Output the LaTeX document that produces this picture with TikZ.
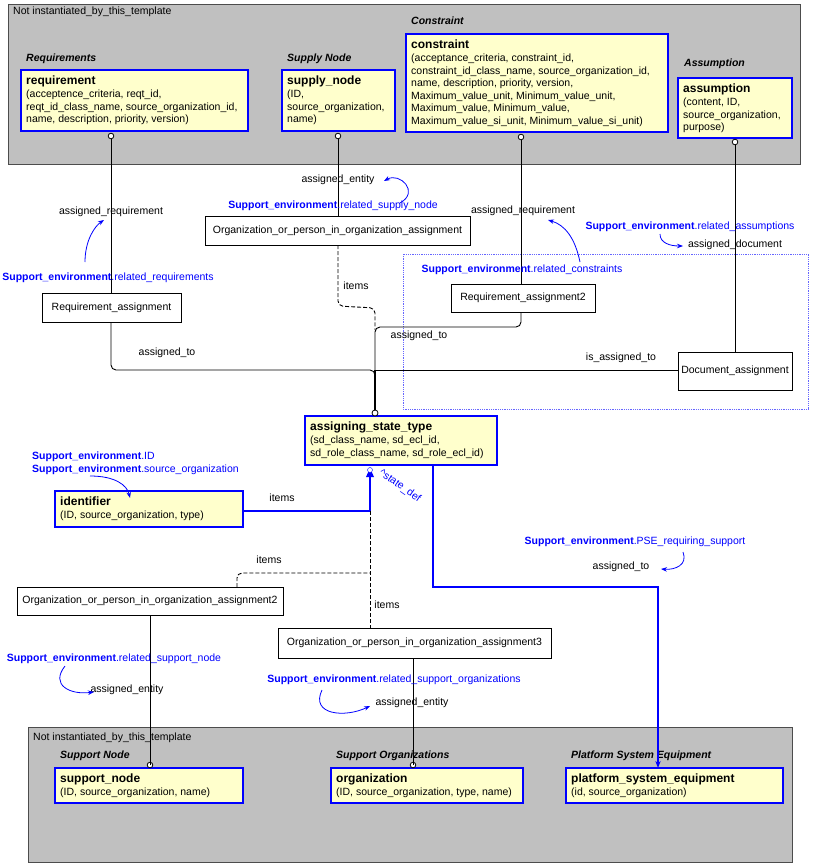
\documentclass[tikz,border=0pt]{standalone}
\usepackage{fontspec}
\setmainfont{Liberation Sans}
\usetikzlibrary{arrows.meta}
\definecolor{pan}{RGB}{192,192,192}
\definecolor{ent}{RGB}{255,255,204}
\definecolor{bl}{RGB}{0,0,255}
\newcommand{\se}[1]{\textcolor{bl}{\textbf{Support\_environment}.#1}}
\newcommand{\etl}[1]{{\fontsize{12}{12.6}\selectfont\bfseries #1}}
\begin{document}
\begin{tikzpicture}[x=1pt,y=-1pt,
  lab/.style={font=\fontsize{10.5}{12}\selectfont,inner sep=1pt},
  ttl/.style={font=\fontsize{10.5}{12}\selectfont\bfseries\itshape,anchor=west,inner sep=0pt},
  ent/.style={draw=bl,line width=1.2pt,fill=ent},
  box/.style={draw=black,fill=white,line width=0.8pt},
  ln/.style={draw=black,line width=0.9pt,rounded corners=5pt},
  dl/.style={draw=black,line width=0.9pt,dash pattern=on 4pt off 2pt,rounded corners=5pt},
  bln/.style={draw=bl,line width=1.2pt},
  circ/.style={draw=black,fill=white,line width=0.8pt},
  carr/.style={draw=bl,line width=0.8pt,-{Stealth[length=6pt]}}]
\useasboundingbox (0,0) rectangle (812,864);
\fill[white] (0,0) rectangle (812,864);
% panels
\draw[fill=pan,draw=black!70] (8,4) rectangle (800,164);
\node[lab,anchor=west] (p1) at (12,12) {Not instantiated\_by\_this\_template};
\draw[fill=pan,draw=black!70] (28,727) rectangle (792,862);
\node[lab,anchor=west] (p2) at (32,738) {Not instantiated\_by\_this\_template};
\draw[bl!60,densely dotted,line width=0.8pt] (403,254) rectangle (808,409);
% entity boxes
\newcommand{\ent}[6]{\draw[ent] (#1,#2) rectangle (#3,#4);
  \node[anchor=north west,align=left,inner sep=0pt,font=\fontsize{10.5}{12.6}\selectfont] (#5) at (#1+5,#2+6) {#6};}
\ent{21}{70}{248}{131}{req}{\etl{requirement}\\(acceptence\_criteria, reqt\_id,\\reqt\_id\_class\_name, source\_organization\_id,\\name, description, priority, version)}
\node[ttl] (t1) at (26,59) {Requirements};
\ent{282}{70}{395}{131}{sup}{\etl{supply\_node}\\(ID,\\source\_organization,\\name)}
\node[ttl] (t2) at (287,59) {Supply Node};
\ent{406}{34}{668}{132}{con}{\etl{constraint}\\(acceptance\_criteria, constraint\_id,\\constraint\_id\_class\_name, source\_organization\_id,\\name, description, priority, version,\\Maximum\_value\_unit, Minimum\_value\_unit,\\Maximum\_value, Minimum\_value,\\Maximum\_value\_si\_unit, Minimum\_value\_si\_unit)}
\node[ttl] (t3) at (411,21) {Constraint};
\ent{678}{78}{792}{138}{ass}{\etl{assumption}\\(content, ID,\\source\_organization,\\purpose)}
\node[ttl] (t4) at (684,64) {Assumption};
\ent{305}{416}{497}{465}{ast}{\etl{assigning\_state\_type}\\(sd\_class\_name, sd\_ecl\_id,\\sd\_role\_class\_name, sd\_role\_ecl\_id)}
\ent{55}{491}{243}{527}{idf}{\etl{identifier}\\(ID, source\_organization, type)}
\ent{55}{768}{243}{803}{snd}{\etl{support\_node}\\(ID, source\_organization, name)}
\node[ttl] (t5) at (60,756) {Support Node};
\ent{331}{768}{523}{803}{org}{\etl{organization}\\(ID, source\_organization, type, name)}
\node[ttl] (t6) at (336,756) {Support Organizations};
\ent{566}{768}{783}{803}{pse}{\etl{platform\_system\_equipment}\\(id, source\_organization)}
\node[ttl] (t7) at (571,756) {Platform System Equipment};
% plain boxes
\draw[box] (42,293) rectangle (181,322); \node[lab] (ra) at (111.5,307.5) {Requirement\_assignment};
\draw[box] (205,216) rectangle (470,245); \node[lab] (oa) at (337.5,230.5) {Organization\_or\_person\_in\_organization\_assignment};
\draw[box] (451,284) rectangle (595,312); \node[lab] (ra2) at (523,298) {Requirement\_assignment2};
\draw[box] (678,352) rectangle (792,390); \node[lab] (da) at (735,371) {Document\_assignment};
\draw[box] (17,587) rectangle (283,615); \node[lab] (oa2) at (150,601) {Organization\_or\_person\_in\_organization\_assignment2};
\draw[box] (278,628) rectangle (551,658); \node[lab] (oa3) at (414.5,643) {Organization\_or\_person\_in\_organization\_assignment3};
\coordinate (m) at (375,413);
% connectors
\draw[ln] (111,136) -- (111,293);
\draw[ln] (111,322) -- (111,370) -- (375,370) -- (m);
\draw[ln] (338,136) -- (338,216);
\draw[dl] (338,245) -- (338,306) -- (375,308) -- (375,330);
\draw[ln] (521,137) -- (521,284);
\draw[ln] (521,312) -- (521,327) -- (375,327) -- (375,370);
\draw[ln] (735,142) -- (735,352);
\draw[ln] (678,370) -- (375,370);
\draw[black,line width=1.2pt] (375,370) -- (m);
\draw[circ] (m) circle (3);
\foreach \p in {(111,136),(338,136),(521,137),(735,142),(150,765),(413,765)} \draw[circ] \p circle (2.8);
\draw[ln] (150,615) -- (150,765);
\draw[ln] (413,658) -- (413,765);
\draw[bln] (243,511) -- (370,511) -- (370,474);
\fill[bl] (366,477) -- (374,477) -- (370,468) -- cycle;
\draw[bl,fill=white] (370,470) circle (2.5);
\draw[dl] (370,511) -- (370,628);
\draw[dl] (237,587) -- (237,573) -- (370,573);
\draw[bln,-{Stealth[length=7pt]}] (433,465) -- (433,587) -- (658,587) -- (658,768);
% labels
\node[lab] (l1) at (111,212) {assigned\_requirement};
\node[lab] (l2) at (108,278) {\se{related\_requirements}};
\draw[carr] (85,262) .. controls (85,240) and (95,226) .. (104,220);
\node[lab] (l3) at (338,180) {assigned\_entity};
\node[lab] (l4) at (333,206) {\se{related\_supply\_node}};
\draw[carr] (400,203) .. controls (420,192) and (400,172) .. (384,181);
\node[lab] (l5) at (523,211) {assigned\_requirement};
\node[lab] (l6) at (522,270) {\se{related\_constraints}};
\draw[carr] (580,262) .. controls (575,238) and (565,225) .. (548,220);
\node[lab] (l7) at (690,227) {\se{related\_assumptions}};
\node[lab] (l8) at (735,245) {assigned\_document};
\draw[carr] (660,234) .. controls (660,243) and (670,246) .. (683,246);
\node[lab] (l9) at (356,286) {items};
\node[lab] (l10) at (167,353) {assigned\_to};
\node[lab] (l11) at (419,336) {assigned\_to};
\node[lab] (l12) at (621,358) {is\_assigned\_to};
\node[lab,anchor=west] (l13) at (31,457) {\se{ID}};
\node[lab,anchor=west] (l14) at (31,470) {\se{source\_organization}};
\draw[carr] (90,476) .. controls (115,476) and (127,485) .. (130,498);
\node[lab] (l15) at (282,498) {items};
\node[lab,text=bl,rotate=-35] (l16) at (400,486) {\textasciicircum state\_def};
\node[lab] (l17) at (269,560) {items};
\node[lab] (l18) at (387,605) {items};
\node[lab] (l19) at (635,542) {\se{PSE\_requiring\_support}};
\node[lab] (l20) at (621,567) {assigned\_to};
\draw[carr] (683,552) .. controls (688,565) and (675,570) .. (661,569);
\node[lab] (l21) at (114,659) {\se{related\_support\_node}};
\node[lab] (l22) at (127,690) {assigned\_entity};
\draw[carr] (65,666) .. controls (50,685) and (70,695) .. (94,692);
\node[lab] (l23) at (394,680) {\se{related\_support\_organizations}};
\node[lab] (l24) at (412,703) {assigned\_entity};
\draw[carr] (322,690) .. controls (310,715) and (345,718) .. (370,706);
\end{tikzpicture}
\end{document}
